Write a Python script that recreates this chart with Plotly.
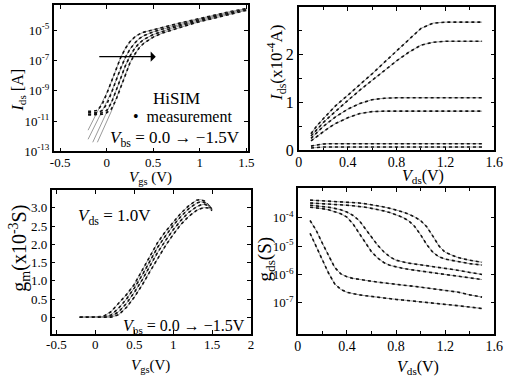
import plotly.graph_objects as go

# ---------------- data ----------------
# Panel 1: Ids-Vgs (log10 Ids [A]) for Vbs = 0, -0.5, -1.0, -1.5 V
vgs_a = [-0.2, -0.15, -0.1, -0.05, 0, 0.05, 0.1, 0.15, 0.2, 0.25, 0.3, 0.35, 0.4,
         0.5, 0.6, 0.7, 0.8, 0.9, 1.0, 1.1, 1.2, 1.3, 1.4, 1.5]
ids_meas_log = [
    [-10.35, -10.35, -10.3, -9.9, -9.2, -8.4, -7.55, -6.8, -6.2, -5.75, -5.45, -5.25, -5.12,
     -4.95, -4.8, -4.65, -4.5, -4.35, -4.2, -4.06, -3.93, -3.8, -3.68, -3.57],
    [-10.45, -10.45, -10.45, -10.3, -9.9, -9.15, -8.3, -7.5, -6.8, -6.25, -5.85, -5.55, -5.35,
     -5.1, -4.92, -4.75, -4.59, -4.43, -4.28, -4.13, -3.99, -3.85, -3.72, -3.6],
    [-10.55, -10.55, -10.5, -10.45, -10.3, -9.8, -9.0, -8.15, -7.35, -6.7, -6.2, -5.85, -5.6,
     -5.28, -5.05, -4.86, -4.68, -4.51, -4.35, -4.2, -4.05, -3.91, -3.77, -3.64],
    [-10.6, -10.6, -10.6, -10.55, -10.45, -10.2, -9.6, -8.75, -7.9, -7.15, -6.6, -6.15, -5.85,
     -5.45, -5.18, -4.97, -4.78, -4.6, -4.43, -4.27, -4.11, -3.96, -3.82, -3.68],
]
ids_model_log = [
    [-11.6, -11.0, -10.4, -9.8, -9.15, -8.4, -7.55, -6.8, -6.2, -5.75, -5.45, -5.25, -5.12,
     -4.95, -4.8, -4.65, -4.5, -4.35, -4.2, -4.06, -3.93, -3.8, -3.68, -3.57],
    [-12.2, -11.6, -11.0, -10.4, -9.8, -9.1, -8.3, -7.5, -6.8, -6.25, -5.85, -5.55, -5.35,
     -5.1, -4.92, -4.75, -4.59, -4.43, -4.28, -4.13, -3.99, -3.85, -3.72, -3.6],
    [None, -12.4, -11.75, -11.1, -10.45, -9.75, -9.0, -8.15, -7.35, -6.7, -6.2, -5.85, -5.6,
     -5.28, -5.05, -4.86, -4.68, -4.51, -4.35, -4.2, -4.05, -3.91, -3.77, -3.64],
    [None, None, -12.4, -11.75, -11.1, -10.35, -9.55, -8.75, -7.9, -7.15, -6.6, -6.15, -5.85,
     -5.45, -5.18, -4.97, -4.78, -4.6, -4.43, -4.27, -4.11, -3.96, -3.82, -3.68],
]

# Panel 2: Ids-Vds (x1e-4 A)
vds_b = [0.1, 0.15, 0.2, 0.25, 0.3, 0.4, 0.5, 0.6, 0.7, 0.8, 0.9, 1.0, 1.1, 1.2, 1.3, 1.4, 1.5]
ids_lin = [
    [0.35, 0.52, 0.66, 0.8, 0.93, 1.15, 1.37, 1.6, 1.84, 2.07, 2.32, 2.55, 2.66, 2.68, 2.68, 2.68, 2.68],
    [0.3, 0.45, 0.58, 0.7, 0.82, 1.04, 1.26, 1.47, 1.67, 1.87, 2.05, 2.2, 2.26, 2.28, 2.28, 2.28, 2.28],
    [0.25, 0.38, 0.5, 0.6, 0.7, 0.86, 0.98, 1.06, 1.09, 1.1, 1.1, 1.1, 1.1, 1.1, 1.1, 1.1, 1.1],
    [0.2, 0.3, 0.4, 0.48, 0.56, 0.68, 0.77, 0.81, 0.82, 0.82, 0.82, 0.82, 0.82, 0.82, 0.82, 0.82, 0.82],
    [0.09, 0.12, 0.135, 0.14, 0.14, 0.14, 0.14, 0.14, 0.14, 0.14, 0.14, 0.14, 0.14, 0.14, 0.14, 0.14, 0.14],
    [0.05, 0.065, 0.07, 0.07, 0.07, 0.07, 0.07, 0.07, 0.07, 0.07, 0.07, 0.07, 0.07, 0.07, 0.07, 0.07, 0.07],
]

# Panel 3: gm-Vgs (x1e-3 S), Vds = 1.0 V
vgs_c = [-0.2, -0.1, 0, 0.1, 0.2, 0.3, 0.4, 0.5, 0.6, 0.7, 0.8, 0.9, 1.0, 1.1, 1.2, 1.3,
         1.35, 1.4, 1.45, 1.5]
gm = [
    [0, 0, 0, 0.02, 0.15, 0.38, 0.62, 0.9, 1.28, 1.7, 2.05, 2.35, 2.62, 2.86, 3.06, 3.21,
     3.23, 3.19, 3.08, None],
    [0, 0, 0, 0.0, 0.06, 0.25, 0.5, 0.8, 1.15, 1.55, 1.92, 2.23, 2.52, 2.77, 2.98, 3.13,
     3.17, 3.15, 3.08, 2.97],
    [0, 0, 0, 0, 0.02, 0.15, 0.38, 0.68, 1.02, 1.4, 1.78, 2.1, 2.4, 2.66, 2.88, 3.03,
     3.08, 3.1, 3.06, 2.97],
    [0, 0, 0, 0, 0.0, 0.07, 0.27, 0.55, 0.88, 1.25, 1.62, 1.96, 2.27, 2.55, 2.77, 2.93,
     2.98, 3.01, 3.0, 2.93],
]

# Panel 4: gds-Vds (log10 gds [S])
vds_d = [0.1, 0.15, 0.2, 0.25, 0.3, 0.35, 0.4, 0.45, 0.5, 0.55, 0.6, 0.65, 0.7, 0.75, 0.8,
         0.85, 0.9, 0.95, 1.0, 1.05, 1.1, 1.15, 1.2, 1.3, 1.4, 1.5]
gds_log = [
    [-3.38, -3.39, -3.4, -3.41, -3.42, -3.43, -3.44, -3.46, -3.48, -3.51, -3.54, -3.58, -3.62,
     -3.67, -3.72, -3.79, -3.87, -3.97, -4.1, -4.32, -4.65, -5.0, -5.22, -5.4, -5.5, -5.57],
    [-3.48, -3.49, -3.5, -3.51, -3.52, -3.54, -3.56, -3.58, -3.6, -3.63, -3.67, -3.71, -3.76,
     -3.82, -3.89, -3.98, -4.1, -4.3, -4.6, -4.95, -5.22, -5.38, -5.46, -5.55, -5.62, -5.67],
    [-3.56, -3.58, -3.6, -3.63, -3.67, -3.72, -3.8, -3.92, -4.1, -4.38, -4.68, -4.97, -5.2,
     -5.38, -5.5, -5.56, -5.6, -5.63, -5.66, -5.69, -5.72, -5.75, -5.78, -5.85, -5.93, -6.0],
    [-3.63, -3.65, -3.68, -3.72, -3.78, -3.86, -3.98, -4.22, -4.55, -4.9, -5.2, -5.42, -5.58,
     -5.68, -5.74, -5.78, -5.82, -5.85, -5.88, -5.91, -5.94, -5.97, -6.0, -6.06, -6.12, -6.18],
    [-4.1, -4.45, -4.9, -5.35, -5.75, -5.98, -6.08, -6.14, -6.18, -6.21, -6.24, -6.27, -6.3,
     -6.32, -6.35, -6.37, -6.4, -6.42, -6.45, -6.47, -6.5, -6.52, -6.55, -6.62, -6.72, -6.8],
    [-4.55, -5.0, -5.5, -5.95, -6.33, -6.53, -6.63, -6.68, -6.72, -6.75, -6.78, -6.8, -6.83,
     -6.85, -6.88, -6.9, -6.92, -6.94, -6.96, -6.98, -7.0, -7.03, -7.05, -7.1, -7.15, -7.2],
]

# ---------------- figure ----------------
W, H = 514, 385
FONT = "Liberation Serif, Times New Roman, serif"
MEAS = dict(color="#111111", width=1.6, dash="dot")
MODEL = dict(color="#9a9a9a", width=1)


def px_x(p):
    return p / W


def px_y(p):
    return 1 - p / H


def tolog(v):
    return [None if a is None else 10 ** a for a in v]


fig = go.Figure()

for mlog, slog in zip(ids_model_log, ids_meas_log):
    fig.add_trace(go.Scatter(x=vgs_a, y=tolog(mlog), mode="lines", line=MODEL,
                             xaxis="x", yaxis="y", showlegend=False))
    fig.add_trace(go.Scatter(x=vgs_a, y=tolog(slog), mode="lines", line=MEAS,
                             xaxis="x", yaxis="y", showlegend=False))

for c in ids_lin:
    fig.add_trace(go.Scatter(x=vds_b, y=c, mode="lines", line=MODEL,
                             xaxis="x2", yaxis="y2", showlegend=False))
    fig.add_trace(go.Scatter(x=vds_b, y=c, mode="lines", line=MEAS,
                             xaxis="x2", yaxis="y2", showlegend=False))

for c in gm:
    fig.add_trace(go.Scatter(x=vgs_c, y=c, mode="lines", line=MODEL,
                             xaxis="x3", yaxis="y3", showlegend=False))
    fig.add_trace(go.Scatter(x=vgs_c, y=c, mode="lines", line=MEAS,
                             xaxis="x3", yaxis="y3", showlegend=False))

for c in gds_log:
    fig.add_trace(go.Scatter(x=vds_d, y=tolog(c), mode="lines", line=MODEL,
                             xaxis="x4", yaxis="y4", showlegend=False))
    fig.add_trace(go.Scatter(x=vds_d, y=tolog(c), mode="lines", line=MEAS,
                             xaxis="x4", yaxis="y4", showlegend=False))

axis_common = dict(showline=True, linecolor="black", linewidth=1.5, mirror="ticks",
                   ticks="inside", ticklen=4, tickcolor="black", showgrid=False,
                   zeroline=False, tickfont=dict(family=FONT, size=13, color="black"))
f14 = dict(family=FONT, size=14, color="black")

fig.update_layout(
    width=W, height=H, margin=dict(l=0, r=0, t=0, b=0),
    paper_bgcolor="white", plot_bgcolor="white",
    font=dict(family=FONT, color="black"),
    xaxis=dict(axis_common, domain=[px_x(50), px_x(250)], anchor="y", range=[-0.57, 1.52],
               tickvals=[-0.5, 0, 0.5, 1, 1.5], ticktext=["-0.5", "0", "0.5", "1", "1.5"],
               ticklabelstandoff=-2),
    yaxis=dict(axis_common, domain=[px_y(155), px_y(5)], anchor="x", type="log",
               range=[-13, -3.32], tickvals=[1e-13, 1e-11, 1e-9, 1e-7, 1e-5],
               ticktext=["10<sup>-13</sup>", "10<sup>-11</sup>", "10<sup>-9</sup>",
                         "10<sup>-7</sup>", "10<sup>-5</sup>"]),
    xaxis2=dict(axis_common, domain=[px_x(302), px_x(503)], anchor="y2", range=[0, 1.6],
                tickvals=[0, 0.4, 0.8, 1.2, 1.6], ticktext=["0", "0.4", "0.8", "1.2", "1.6"],
                tickfont=f14, ticklabelstandoff=-2,
                minor=dict(dtick=0.2, ticks="inside", ticklen=3, tickcolor="black")),
    yaxis2=dict(axis_common, domain=[px_y(154), px_y(7)], anchor="x2", range=[0, 3],
                tickvals=[0, 1, 2, 3], ticktext=["0", "1", "2", "3"],
                tickfont=dict(family=FONT, size=16, color="black"),
                minor=dict(dtick=0.5, ticks="inside", ticklen=3, tickcolor="black")),
    xaxis3=dict(axis_common, domain=[px_x(48), px_x(253)], anchor="y3", range=[-0.56, 2.0],
                tickvals=[-0.5, 0, 0.5, 1, 1.5, 2], ticktext=["-0.5", "0", "0.5", "1", "1.5", "2"],
                ticklabelstandoff=-2),
    yaxis3=dict(axis_common, domain=[px_y(342), px_y(195)], anchor="x3", range=[-0.46, 3.48],
                tickvals=[0, 0.5, 1, 1.5, 2, 2.5, 3],
                ticktext=["0", "0.5", "1.0", "1.5", "2.0", "2.5", "3.0"]),
    xaxis4=dict(axis_common, domain=[px_x(301), px_x(503)], anchor="y4", range=[0, 1.6],
                tickvals=[0, 0.4, 0.8, 1.2, 1.6], ticktext=["0", "0.4", "0.8", "1.2", "1.6"],
                tickfont=f14, ticklabelstandoff=-2,
                minor=dict(dtick=0.2, ticks="inside", ticklen=3, tickcolor="black")),
    yaxis4=dict(axis_common, domain=[px_y(342), px_y(193)], anchor="x4", type="log",
                range=[-8.1, -2.97], tickvals=[1e-7, 1e-6, 1e-5, 1e-4],
                ticktext=["10<sup>-7</sup>", "10<sup>-6</sup>", "10<sup>-5</sup>",
                          "10<sup>-4</sup>"]),
)


def text(px, py, s, size=16, angle=0, xanchor="center"):
    fig.add_annotation(x=px_x(px), y=px_y(py), xref="paper", yref="paper", text=s,
                       showarrow=False, textangle=angle, xanchor=xanchor, yanchor="middle",
                       font=dict(family=FONT, size=size, color="black"))


# axis titles
text(14, 92, "<i>I</i><sub>ds</sub> [A]", 16, -90)
text(150, 182, "<i>V</i><sub>gs</sub> (V)", 15)
text(279, 64, "<i>I</i><sub>ds</sub>(x10<sup>-4</sup>A)", 17, -90)
text(430, 181, "<i>V</i><sub>ds</sub>(V)", 16)
text(15, 254, "g<sub>m</sub>(x10<sup>-3</sup>S)", 20, -90)
text(150, 375, "<i>V</i><sub>gs</sub>(V)", 15)
text(268, 265, "g<sub>ds</sub>(S)", 19, -90)
text(425, 376, "<i>V</i><sub>ds</sub>(V)", 16)

# panel 1 labels
text(150, 101, "HiSIM", 17, xanchor="left")
text(130, 119, "•  measurement", 16, xanchor="left")
text(106, 142, "<i>V</i><sub>bs</sub> = 0.0 → −1.5V", 17, xanchor="left")
fig.add_annotation(x=px_x(155), y=px_y(58), xref="paper", yref="paper", text="",
                   showarrow=True, ax=-58, ay=0, arrowhead=1, arrowsize=1.3,
                   arrowwidth=1.3, arrowcolor="black")

# panel 3 labels
text(73, 222, "<i>V</i><sub>ds</sub> = 1.0V", 17, xanchor="left")
text(119, 334, "<i>V</i><sub>bs</sub> = 0.0 → −1.5V", 16, xanchor="left")

fig.write_html("out.html")
